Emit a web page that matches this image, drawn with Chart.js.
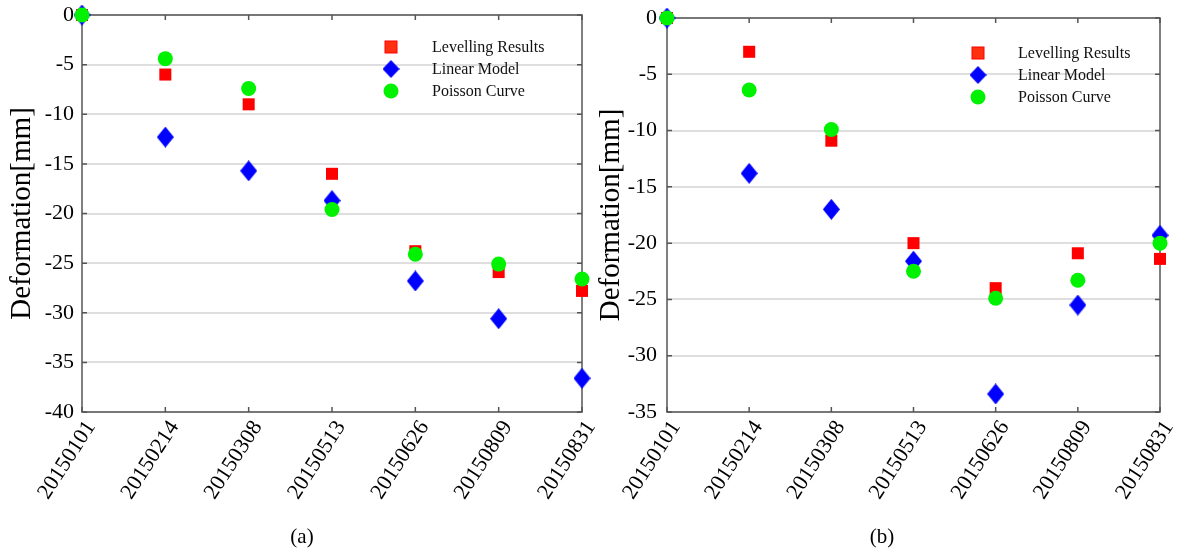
<!DOCTYPE html>
<html><head><meta charset="utf-8">
<script src="https://cdn.jsdelivr.net/npm/chart.js@4/dist/chart.umd.min.js"></script>
<style>
html,body{margin:0;padding:0;background:#fff;}
#wrap{position:relative;width:1184px;height:551px;overflow:hidden;background:#fff;}
.c{position:absolute;top:0;}
.cap{position:absolute;font-family:"Liberation Serif";font-size:21px;line-height:24px;color:#000;transform:translateX(-50%);top:524px;}
</style></head><body>
<div id="wrap">
<div class="c" style="left:592px;width:592px;height:551px"><canvas id="cb"></canvas></div>
<div class="c" style="left:0;width:610px;height:551px"><canvas id="ca"></canvas></div>
<div class="cap" style="left:302px">(a)</div>
<div class="cap" style="left:882px">(b)</div>
</div>
<script>
const categories = ['20150101','20150214','20150308','20150513','20150626','20150809','20150831'];
const seriesNames = ['Levelling Results','Linear Model','Poisson Curve'];
const yTitle = 'Deformation[mm]';
// Panel (a)
const levellingA = [0, -6.0, -9.0, -16.0, -23.8, -25.9, -27.8];
const linearA    = [0, -12.3, -15.7, -18.7, -26.8, -30.6, -36.6];
const poissonA   = [0, -4.4, -7.4, -19.6, -24.1, -25.1, -26.6];
const yRangeA = [-40, 0];
// Panel (b)
const levellingB = [0, -3.0, -10.9, -20.0, -24.0, -20.9, -21.4];
const linearB    = [0, -13.8, -17.0, -21.6, -33.4, -25.5, -19.3];
const poissonB   = [0, -6.4, -9.9, -22.5, -24.9, -23.3, -20.0];
const yRangeB = [-35, 0];
const yStep = 5;

const RED = '#ff0000', BLUE = '#0000ff', GREEN = '#00f200';

function diamond(w, h, color) {
  const c = document.createElement('canvas');
  c.width = w; c.height = h;
  const x = c.getContext('2d');
  x.fillStyle = color;
  x.beginPath();
  x.moveTo(w/2, 0); x.lineTo(w, h/2); x.lineTo(w/2, h); x.lineTo(0, h/2);
  x.closePath(); x.fill();
  return c;
}
const diamondImg = diamond(17, 21, BLUE);
const legendDiamond = diamond(17, 18, BLUE);

const framePlugin = {
  id: 'frame',
  beforeDatasetsDraw(chart) {
    const {ctx, chartArea: a, scales: {x, y}} = chart;
    ctx.save();
    ctx.strokeStyle = '#555';
    ctx.lineWidth = 1.5;
    ctx.strokeRect(a.left, a.top, a.right - a.left, a.bottom - a.top);
    const L = 5;
    ctx.beginPath();
    x.ticks.forEach((t, i) => {
      const px = x.getPixelForTick(i);
      ctx.moveTo(px, a.bottom); ctx.lineTo(px, a.bottom - L);
      ctx.moveTo(px, a.top); ctx.lineTo(px, a.top + L);
    });
    y.ticks.forEach((t, i) => {
      const py = y.getPixelForTick(i);
      ctx.moveTo(a.left, py); ctx.lineTo(a.left + L, py);
      ctx.moveTo(a.right, py); ctx.lineTo(a.right - L, py);
    });
    ctx.stroke();
    ctx.restore();
  }
};

const legendPlugin = {
  id: 'boxLegend',
  afterDatasetsDraw(chart, args, opts) {
    const ctx = chart.ctx;
    ctx.save();
    const mx = opts.mx, tx = opts.tx, gap = 22;
    ctx.font = '16px "Liberation Serif"';
    ctx.textBaseline = 'middle';
    seriesNames.forEach((name, i) => {
      const yy = opts.y0 + i * gap;
      if (i === 0) {
        ctx.fillStyle = '#ff3010'; ctx.fillRect(mx - 6, yy - 6, 12, 12);
        ctx.strokeStyle = RED; ctx.lineWidth = 1; ctx.strokeRect(mx - 6, yy - 6, 12, 12);
      } else if (i === 1) {
        ctx.drawImage(legendDiamond, mx - 8.5, yy - 9);
      } else {
        ctx.fillStyle = GREEN; ctx.beginPath(); ctx.arc(mx, yy, 7.5, 0, Math.PI * 2); ctx.fill();
      }
      ctx.fillStyle = '#111';
      ctx.fillText(name, tx, yy + 1);
    });
    ctx.restore();
  }
};

function makeChart(id, lev, lin, poi, yr, cfg) {
  return new Chart(document.getElementById(id), {
    type: 'line',
    data: {
      labels: categories,
      datasets: [
        {label: seriesNames[2], data: poi, order: 0, showLine: false, pointStyle: 'circle', pointRadius: 7.5,
         pointBackgroundColor: GREEN, pointBorderWidth: 0, borderColor: GREEN, clip: false},
        {label: seriesNames[1], data: lin, order: 1, showLine: false, pointStyle: diamondImg, pointRadius: 10,
         pointBackgroundColor: BLUE, pointBorderWidth: 0, borderColor: BLUE, clip: false},
        {label: seriesNames[0], data: lev, order: 2, showLine: false, pointStyle: 'rect', pointRadius: 8.5,
         pointBackgroundColor: RED, pointBorderWidth: 0, borderColor: RED, clip: false}
      ]
    },
    options: {
      responsive: true, maintainAspectRatio: false, animation: false, events: [],
      layout: {padding: {top: cfg.top, right: cfg.right, left: 0, bottom: 0}},
      plugins: {
        legend: {display: false}, tooltip: {enabled: false},
        boxLegend: cfg.legend
      },
      scales: {
        x: {
          ticks: {font: {family: 'Liberation Serif', size: 22}, color: '#000', minRotation: 57, maxRotation: 57, autoSkip: false, padding: 4, labelOffset: 9},
          grid: {display: false, drawTicks: false}, border: {display: false},
          afterFit: (s) => { s.height = cfg.xh; s.paddingLeft = 0; s.paddingRight = 0; }
        },
        y: {
          min: yr[0], max: yr[1],
          ticks: {stepSize: yStep, font: {family: 'Liberation Serif', size: 22}, color: '#000', padding: cfg.tpad},
          grid: {color: '#dedede', lineWidth: 2, drawTicks: false}, border: {display: false},
          title: {display: true, text: yTitle, font: {family: 'Liberation Serif', size: 29}, color: '#000', padding: {top: cfg.titlePad, bottom: 0}},
          afterFit: (s) => { s.width = cfg.yw; s.paddingTop = 0; s.paddingBottom = 0; }
        }
      }
    },
    plugins: [framePlugin, legendPlugin]
  });
}

makeChart('ca', levellingA, linearA, poissonA, yRangeA,
  {top: 15, right: 28, xh: 139, yw: 82, tpad: 8, titlePad: 5, legend: {mx: 391, tx: 432, y0: 47}});
makeChart('cb', levellingB, linearB, poissonB, yRangeB,
  {top: 18, right: 24, xh: 139, yw: 75, tpad: 10, titlePad: 2, legend: {mx: 386, tx: 426, y0: 53}});
</script>
</body></html>
